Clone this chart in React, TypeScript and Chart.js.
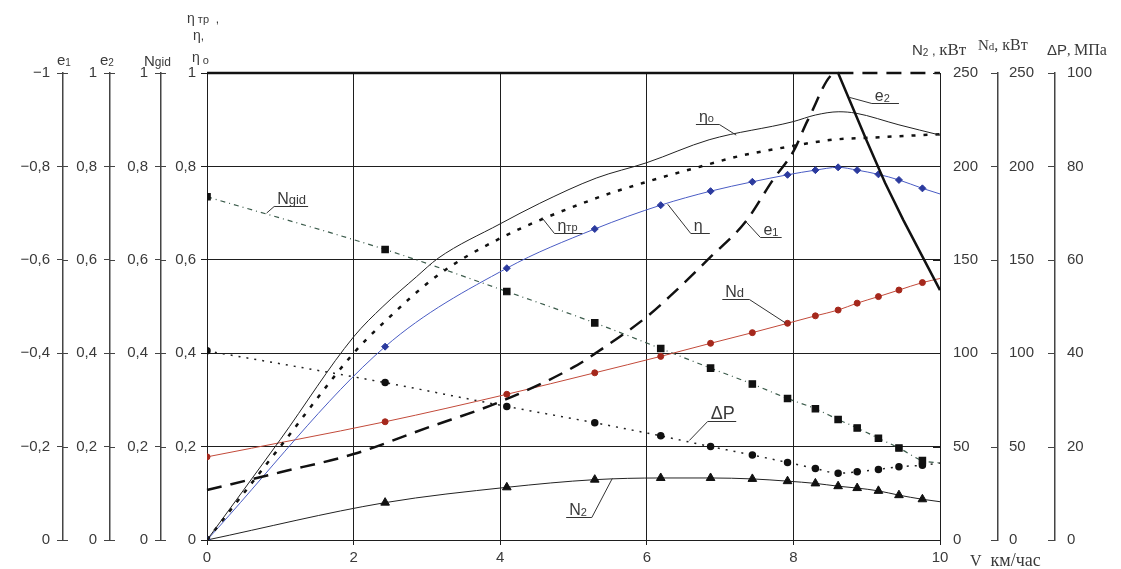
import React, { useEffect, useRef } from 'react';
import { Chart, registerables } from 'chart.js';

Chart.register(...registerables);

// ---- data ----
const SPEED = [0, 2.43, 4.09, 5.29, 6.19, 6.87, 7.44, 7.92, 8.3, 8.61, 8.87, 9.16, 9.44, 9.76, 10];
const ETA = [0, 0.414, 0.582, 0.666, 0.717, 0.747, 0.767, 0.782, 0.792, 0.798, 0.792, 0.783, 0.771, 0.753, 0.741];
const N_D = [44.5, 63.3, 78, 89.5, 98.3, 105.3, 111, 116, 120, 123.1, 126.8, 130.3, 133.8, 137.8, 140];
const N_GID = [0.735, 0.622, 0.532, 0.465, 0.41, 0.368, 0.334, 0.303, 0.281, 0.258, 0.24, 0.218, 0.197, 0.17, 0.165];
const DELTA_P = [40.5, 33.7, 28.6, 25.1, 22.3, 20, 18.2, 16.6, 15.3, 14.3, 14.6, 15.1, 15.7, 16, 16.5];
const N_2 = [0, 20, 28.2, 32.3, 33.2, 33.2, 32.7, 31.5, 30.3, 28.8, 27.8, 26.3, 24, 21.8, 20.5];

const ETA0_X = [0, 1, 2, 2.4, 2.86, 3.15, 4, 4.54, 5.31, 6, 6.85, 8, 8.3, 8.62, 8.85, 9.44, 10];
const ETA0 = [0, 0.215, 0.435, 0.5, 0.564, 0.603, 0.677, 0.721, 0.775, 0.808, 0.857, 0.896, 0.91, 0.917, 0.914, 0.889, 0.867];
const ETA_TR_X = [0, 1, 2, 2.4, 3.15, 4, 5.31, 6, 6.81, 7.26, 8, 8.53, 9.12, 10];
const ETA_TR = [0, 0.2, 0.4, 0.464, 0.567, 0.646, 0.732, 0.767, 0.803, 0.822, 0.844, 0.857, 0.862, 0.869];
const E1_X = [0, 1, 2, 3, 4, 5, 5.33, 6, 6.31, 6.85, 7.35, 7.72, 8, 8.2, 8.58, 10];
const E1 = [-0.107, -0.145, -0.184, -0.24, -0.296, -0.37, -0.403, -0.478, -0.521, -0.603, -0.682, -0.771, -0.832, -0.9, -1, -1];
const E2_X = [0, 8.61, 9, 9.25, 9.5, 10];
const E2 = [1, 1, 0.855, 0.765, 0.685, 0.535];

// ---- styling / annotation helpers ----
const SANS = '"Liberation Sans", Arial, sans-serif';
const SERIF = '"Liberation Serif", "Times New Roman", serif';
const TEXT = '#3a3a3a';
const GRID = '#1e1e1e';
const AXIS = '#444';

type Part = { t: string; size: number; dy?: number; serif?: boolean };

const CALLOUTS: { parts: Part[]; x1: number; x2: number; lv: number; end: 'L' | 'R'; ax: number; av: number }[] = [
  { parts: [{ t: 'N', size: 16 }, { t: 'gid', size: 13 }], x1: 0.916, x2: 1.38, lv: 0.716, end: 'L', ax: 0.813, av: 0.7 },
  { parts: [{ t: 'η', size: 16 }, { t: 'тр', size: 11 }], x1: 4.74, x2: 5.12, lv: 0.658, end: 'L', ax: 4.57, av: 0.69 },
  { parts: [{ t: 'η', size: 16 }], x1: 6.6, x2: 6.86, lv: 0.657, end: 'L', ax: 6.285, av: 0.719 },
  { parts: [{ t: 'e', size: 16 }, { t: '1', size: 11, dy: 1 }], x1: 7.55, x2: 7.84, lv: 0.649, end: 'L', ax: 7.35, av: 0.682 },
  { parts: [{ t: 'η', size: 16 }, { t: 'o', size: 11 }], x1: 6.67, x2: 6.99, lv: 0.891, end: 'R', ax: 7.22, av: 0.867 },
  { parts: [{ t: 'e', size: 16 }, { t: '2', size: 11, dy: 1 }], x1: 9.07, x2: 9.44, lv: 0.935, end: 'L', ax: 8.76, av: 0.948 },
  { parts: [{ t: 'N', size: 16 }, { t: 'd', size: 13 }], x1: 7.03, x2: 7.4, lv: 0.516, end: 'R', ax: 7.89, av: 0.465 },
  { parts: [{ t: 'ΔP', size: 18 }], x1: 6.83, x2: 7.22, lv: 0.254, end: 'L', ax: 6.58, av: 0.213 },
  { parts: [{ t: 'N', size: 16 }, { t: '2', size: 11, dy: 1 }], x1: 4.9, x2: 5.25, lv: 0.05, end: 'R', ax: 5.53, av: 0.132 },
];

function drawParts(ctx: CanvasRenderingContext2D, x: number, y: number, parts: Part[]) {
  let cx = x;
  for (const p of parts) {
    ctx.font = `${p.size}px ${p.serif ? SERIF : SANS}`;
    ctx.fillText(p.t, cx, y + (p.dy || 0));
    cx += ctx.measureText(p.t).width;
  }
}

const fmt = (v: any) => {
  const n = Number(v);
  let s: string;
  if (Math.abs(n - Math.round(n)) < 1e-9) s = String(Math.round(n));
  else s = n.toFixed(1).replace('.', ',');
  return s.replace('-', '\u2212');
};

const decor = {
  id: 'decor',
  afterDraw(chart: any) {
    const ctx: CanvasRenderingContext2D = chart.ctx;
    const s = chart.scales;
    const top = chart.chartArea.top;
    ctx.save();
    // crossing ticks on the extra left axes
    ctx.strokeStyle = AXIS;
    ctx.lineWidth = 1;
    for (const id of ['e1', 'e2', 'ngid']) {
      const sc = s[id];
      sc.ticks.forEach((t: any) => {
        const y = Math.round(sc.getPixelForValue(t.value)) + 0.5;
        ctx.beginPath();
        ctx.moveTo(sc.right, y);
        ctx.lineTo(sc.right + 5, y);
        ctx.stroke();
      });
    }
    // inward ticks on right axes
    for (const id of ['n2', 'nd', 'dp']) {
      const sc = s[id];
      ctx.strokeStyle = id === 'n2' ? GRID : AXIS;
      sc.ticks.forEach((t: any) => {
        const y = Math.round(sc.getPixelForValue(t.value)) + 0.5;
        ctx.beginPath();
        ctx.moveTo(sc.left - 7, y);
        ctx.lineTo(sc.left, y);
        ctx.stroke();
      });
    }

    ctx.fillStyle = TEXT;
    ctx.textBaseline = 'alphabetic';
    ctx.textAlign = 'left';
    // axis titles
    drawParts(ctx, s.e1.right - 6, top - 8, [{ t: 'e', size: 15 }, { t: '1', size: 10, dy: 1 }]);
    drawParts(ctx, s.e2.right - 10, top - 8, [{ t: 'e', size: 15 }, { t: '2', size: 10, dy: 1 }]);
    drawParts(ctx, s.ngid.right - 17, top - 7, [{ t: 'N', size: 15 }, { t: 'gid', size: 12 }]);
    drawParts(ctx, s.y.right - 20, 23, [{ t: 'η', size: 14 }, { t: ' тр', size: 11 }, { t: '  ,', size: 12 }]);
    drawParts(ctx, s.y.right - 14, 40, [{ t: 'η', size: 14 }, { t: ',', size: 12 }]);
    drawParts(ctx, s.y.right - 15, 62, [{ t: 'η', size: 14 }, { t: ' o', size: 11, dy: 2 }]);
    drawParts(ctx, s.n2.left - 28, top - 18, [
      { t: 'N', size: 15 },
      { t: '2', size: 10, dy: 1 },
      { t: ' , ', size: 13 },
      { t: 'кВт', size: 17, serif: true },
    ]);
    drawParts(ctx, s.nd.left - 20, top - 23, [
      { t: 'N', size: 15, serif: true },
      { t: 'd', size: 11, serif: true },
      { t: ', кВт', size: 16, serif: true },
    ]);
    drawParts(ctx, s.dp.left - 8, top - 18, [
      { t: 'ΔP', size: 15 },
      { t: ', ', size: 14, serif: true },
      { t: 'МПа', size: 16, serif: true },
    ]);
    drawParts(ctx, s.x.right + 30, 566, [
      { t: 'V', size: 16, serif: true },
      { t: '  км/час', size: 18, serif: true },
    ]);

    // callouts
    const X = s.x;
    const Y = s.y;
    ctx.strokeStyle = '#333';
    ctx.lineWidth = 1;
    for (const c of CALLOUTS) {
      const px1 = X.getPixelForValue(c.x1);
      const px2 = X.getPixelForValue(c.x2);
      const py = Math.round(Y.getPixelForValue(c.lv)) + 0.5;
      const ex = c.end === 'L' ? px1 : px2;
      ctx.beginPath();
      ctx.moveTo(X.getPixelForValue(c.ax), Y.getPixelForValue(c.av));
      ctx.lineTo(ex, py);
      ctx.lineTo(c.end === 'L' ? px2 : px1, py);
      ctx.stroke();
      drawParts(ctx, px1 + 3, py - 3, c.parts);
    }
    ctx.restore();
  },
};

export default function App() {
  const ref = useRef<HTMLCanvasElement>(null);
  useEffect(() => {
    const canvas = ref.current as HTMLCanvasElement;
    const pts = (xs: number[], ys: number[]) => xs.map((x, i) => ({ x, y: ys[i] }));
    const marker = (r: number) => SPEED.map((x) => (x >= 10 ? 0 : r));
    const tickFont = { family: SANS, size: 15 };
    const extraLeft = (weight: number, width: number, min: number, max: number, reverse = false) => ({
      type: 'linear',
      position: 'left',
      weight,
      min,
      max,
      reverse,
      ticks: { stepSize: 0.2, font: tickFont, color: TEXT, padding: 7, callback: fmt },
      grid: { drawOnChartArea: false, color: AXIS, tickLength: 6, lineWidth: 1 },
      border: { color: AXIS, width: 1.5 },
      afterFit: (sc: any) => {
        sc.width = width;
      },
    });
    const extraRight = (weight: number, width: number, max: number, step: number, pad: number, color: string, bw: number) => ({
      type: 'linear',
      position: 'right',
      weight,
      min: 0,
      max,
      ticks: { stepSize: step, font: tickFont, color: TEXT, padding: pad, callback: fmt },
      grid: { drawOnChartArea: false, drawTicks: false },
      border: { color, width: bw },
      afterFit: (sc: any) => {
        sc.width = width;
      },
    });

    const chart = new Chart(canvas, {
      type: 'line',
      data: {
        datasets: [
          { label: 'e2', data: pts(E2_X, E2), yAxisID: 'e2', borderColor: '#111', borderWidth: 2.5, pointRadius: 0, tension: 0, clip: false },
          { label: 'e1', data: pts(E1_X, E1), yAxisID: 'e1', borderColor: '#111', borderWidth: 2.5, borderDash: [15, 9], pointRadius: 0, cubicInterpolationMode: 'monotone', clip: false },
          { label: 'η0', data: pts(ETA0_X, ETA0), yAxisID: 'y', borderColor: '#222', borderWidth: 1, pointRadius: 0, cubicInterpolationMode: 'monotone' },
          { label: 'ηтр', data: pts(ETA_TR_X, ETA_TR), yAxisID: 'y', borderColor: '#111', borderWidth: 2.5, borderDash: [4, 8], pointRadius: 0, cubicInterpolationMode: 'monotone' },
          { label: 'η', data: pts(SPEED, ETA), yAxisID: 'y', borderColor: '#4a5cc4', borderWidth: 1, pointStyle: 'rectRot', pointRadius: marker(3.5), pointBackgroundColor: '#2b3a9e', pointBorderColor: '#2b3a9e', cubicInterpolationMode: 'monotone' },
          { label: 'Nd', data: pts(SPEED, N_D), yAxisID: 'nd', borderColor: '#c24a3a', borderWidth: 1, pointStyle: 'circle', pointRadius: marker(3), pointBackgroundColor: '#a5281c', pointBorderColor: '#a5281c', cubicInterpolationMode: 'monotone' },
          { label: 'Ngid', data: pts(SPEED, N_GID), yAxisID: 'ngid', borderColor: '#3c5c4c', borderWidth: 1.2, borderDash: [5, 4, 1, 4], pointStyle: 'rect', pointRadius: marker(4.5), pointBackgroundColor: '#111', pointBorderColor: '#111', cubicInterpolationMode: 'monotone' },
          { label: 'ΔP', data: pts(SPEED, DELTA_P), yAxisID: 'dp', borderColor: '#222', borderWidth: 1.5, borderDash: [2, 6], pointStyle: 'circle', pointRadius: marker(3), pointBackgroundColor: '#111', pointBorderColor: '#111', cubicInterpolationMode: 'monotone' },
          { label: 'N2', data: pts(SPEED, N_2), yAxisID: 'n2', borderColor: '#222', borderWidth: 1, pointStyle: 'triangle', pointRadius: marker(5), pointBackgroundColor: '#111', pointBorderColor: '#111', cubicInterpolationMode: 'monotone' },
        ],
      },
      options: {
        responsive: false,
        animation: false,
        events: [],
        layout: { padding: { top: 73, left: 0, right: 0, bottom: 0 } },
        plugins: { legend: { display: false }, tooltip: { enabled: false } },
        scales: {
          x: {
            type: 'linear',
            position: 'bottom',
            min: 0,
            max: 10,
            ticks: { stepSize: 2, font: tickFont, color: TEXT, padding: 4, maxRotation: 0, callback: fmt },
            grid: { color: GRID, tickColor: GRID, tickLength: 5, lineWidth: 1 },
            border: { color: GRID, width: 1 },
            afterFit: (sc: any) => {
              sc.height = 29;
            },
          },
          y: {
            type: 'linear',
            position: 'left',
            weight: 0,
            min: 0,
            max: 1,
            ticks: { stepSize: 0.2, font: tickFont, color: TEXT, padding: 5, callback: fmt },
            grid: {
              color: (c: any) => (c.tick && c.tick.value > 0.99 ? 'rgba(0,0,0,0)' : GRID),
              tickColor: GRID,
              tickLength: 6,
              lineWidth: 1,
            },
            border: { color: GRID, width: 1 },
            afterFit: (sc: any) => {
              sc.width = 46;
            },
          },
          ngid: extraLeft(1, 51, 0, 1),
          e2: extraLeft(2, 47, 0, 1),
          e1: extraLeft(3, 63, -1, 0, true),
          n2: extraRight(0, 58, 250, 50, 13, GRID, 1),
          nd: extraRight(1, 57, 250, 50, 11, AXIS, 1.5),
          dp: extraRight(2, 66, 100, 20, 12, AXIS, 1.5),
        } as any,
      },
      plugins: [decor],
    } as any);
    return () => chart.destroy();
  }, []);
  return (
    <div style={{ position: 'fixed', left: 0, top: 0, width: 1121, height: 569, background: '#fff' }}>
      <canvas ref={ref} width={1121} height={569} style={{ display: 'block' }} />
    </div>
  );
}
